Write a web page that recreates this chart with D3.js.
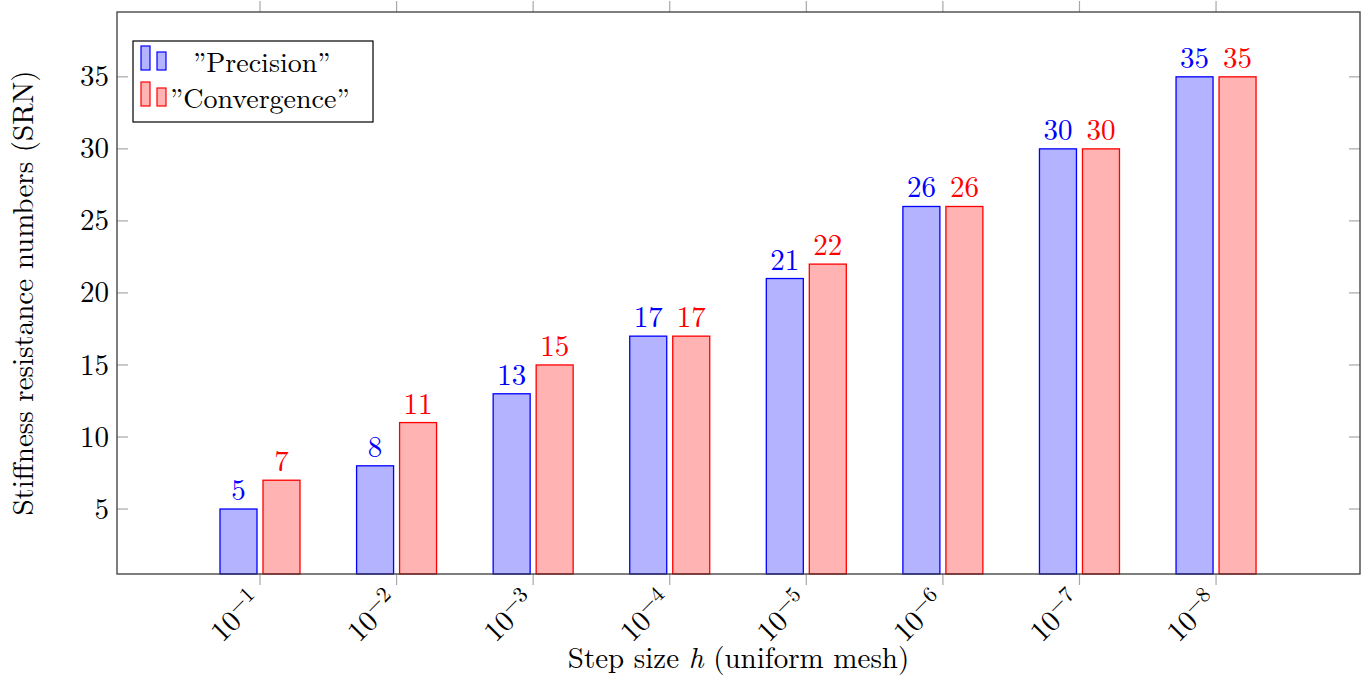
<!DOCTYPE html>
<html>
<head>
<meta charset="utf-8">
<script src="https://cdn.jsdelivr.net/npm/d3@7"></script>
<style>
  body { margin: 0; background: #fff; }
</style>
</head>
<body>
<script>
var width = 1369;
var height = 677;

// data
var steps = [1, 2, 3, 4, 5, 6, 7, 8];          // h = 10^-k
var precision = [5, 8, 13, 17, 21, 26, 30, 35];
var convergence = [7, 11, 15, 17, 22, 26, 30, 35];
var yTicks = [5, 10, 15, 20, 25, 30, 35];
var seriesNames = ["\u201DPrecision\u201D", "\u201DConvergence\u201D"];

var font = "'Latin Modern Roman', 'Liberation Serif', serif";
var fs = 29;

var margin = {left: 117, right: 9, top: 12, bottom: 103};

var svg = d3.select("body").append("svg")
  .attr("width", width)
  .attr("height", height)
  .attr("font-family", font);

var x = d3.scaleLinear()
  .domain([-0.047, 9.054])
  .range([margin.left, width - margin.right]);

var y = d3.scaleLinear()
  .domain([0.49, 39.5])
  .range([height - margin.bottom, margin.top]);

var colors = [
  {fill: "#b3b3ff", stroke: "#0000ff"},
  {fill: "#ffb3b3", stroke: "#ff0000"}
];
var series = [precision, convergence];
var barW = 37;
var offsets = [-21.5, 21.5];

var plot = svg.append("g");

// bars + value labels
series.forEach(function(vals, s) {
  plot.selectAll(".bar" + s)
    .data(vals)
    .enter().append("rect")
    .attr("x", function(d, i) { return x(steps[i]) + offsets[s] - barW / 2; })
    .attr("y", function(d) { return y(d); })
    .attr("width", barW)
    .attr("height", function(d) { return y(0.49) - y(d); })
    .attr("fill", colors[s].fill)
    .attr("stroke", colors[s].stroke)
    .attr("stroke-width", 1.3);

  plot.selectAll(".lab" + s)
    .data(vals)
    .enter().append("text")
    .attr("x", function(d, i) { return x(steps[i]) + offsets[s]; })
    .attr("y", function(d) { return y(d) - 9; })
    .attr("text-anchor", "middle")
    .attr("font-size", fs)
    .attr("fill", colors[s].stroke)
    .text(function(d) { return d; });
});

// ticks
var tickCol = "#a8a8a8";
var x0 = margin.left, x1 = width - margin.right;
var yb = height - margin.bottom, yt = margin.top;

svg.append("g").selectAll("line")
  .data(steps).enter().append("line")
  .attr("x1", function(d) { return x(d); }).attr("x2", function(d) { return x(d); })
  .attr("y1", yb).attr("y2", yb + 11)
  .attr("stroke", tickCol).attr("stroke-width", 1.2);
svg.append("g").selectAll("line")
  .data(steps).enter().append("line")
  .attr("x1", function(d) { return x(d); }).attr("x2", function(d) { return x(d); })
  .attr("y1", yt).attr("y2", yt - 11)
  .attr("stroke", tickCol).attr("stroke-width", 1.2);
svg.append("g").selectAll("line")
  .data(yTicks).enter().append("line")
  .attr("x1", x0).attr("x2", x0 + 11)
  .attr("y1", function(d) { return y(d); }).attr("y2", function(d) { return y(d); })
  .attr("stroke", tickCol).attr("stroke-width", 1.2);
svg.append("g").selectAll("line")
  .data(yTicks).enter().append("line")
  .attr("x1", x1).attr("x2", x1 - 11)
  .attr("y1", function(d) { return y(d); }).attr("y2", function(d) { return y(d); })
  .attr("stroke", tickCol).attr("stroke-width", 1.2);

// frame
svg.append("rect")
  .attr("x", x0).attr("y", yt)
  .attr("width", x1 - x0).attr("height", yb - yt)
  .attr("fill", "none")
  .attr("stroke", "#3a3a3a")
  .attr("stroke-width", 1.3);

// y tick labels
svg.append("g").selectAll("text")
  .data(yTicks).enter().append("text")
  .attr("x", x0 - 8)
  .attr("y", function(d) { return y(d); })
  .attr("dy", "0.33em")
  .attr("text-anchor", "end")
  .attr("font-size", fs)
  .text(function(d) { return d; });

// x tick labels, rotated 45 degrees
var xl = svg.append("g").selectAll("text")
  .data(steps).enter().append("text")
  .attr("transform", function(d) { return "translate(" + (x(d) - 12) + "," + (yb + 14) + ") rotate(-45)"; })
  .attr("text-anchor", "end")
  .attr("dy", "0.72em")
  .attr("font-size", fs);
xl.append("tspan").text("10");
xl.append("tspan")
  .attr("dy", "-0.45em")
  .attr("font-size", 22)
  .text(function(d) { return "\u2212" + d; });

// axis titles
var xt = svg.append("text")
  .attr("x", (x0 + x1) / 2)
  .attr("y", 668)
  .attr("text-anchor", "middle")
  .attr("font-size", fs);
xt.append("tspan").text("Step size ");
xt.append("tspan").attr("font-style", "italic").text("h");
xt.append("tspan").text(" (uniform mesh)");

svg.append("text")
  .attr("transform", "translate(33," + ((yt + yb) / 2) + ") rotate(-90)")
  .attr("text-anchor", "middle")
  .attr("font-size", fs)
  .text("Stiffness resistance numbers (SRN)");

// legend
var lg = svg.append("g").attr("transform", "translate(133,41)");
lg.append("rect")
  .attr("width", 240).attr("height", 81)
  .attr("fill", "#fff").attr("stroke", "#000").attr("stroke-width", 1.2);
seriesNames.forEach(function(name, s) {
  var oy = 5 + s * 36;
  lg.append("rect").attr("x", 8).attr("y", oy).attr("width", 9).attr("height", 24)
    .attr("fill", colors[s].fill).attr("stroke", colors[s].stroke).attr("stroke-width", 1.2);
  lg.append("rect").attr("x", 24).attr("y", oy + 6).attr("width", 9).attr("height", 18)
    .attr("fill", colors[s].fill).attr("stroke", colors[s].stroke).attr("stroke-width", 1.2);
  lg.append("text")
    .attr("x", s === 0 ? 60 : 37)
    .attr("y", oy + 26)
    .attr("font-size", 28)
    .text(name);
});
</script>
</body>
</html>
